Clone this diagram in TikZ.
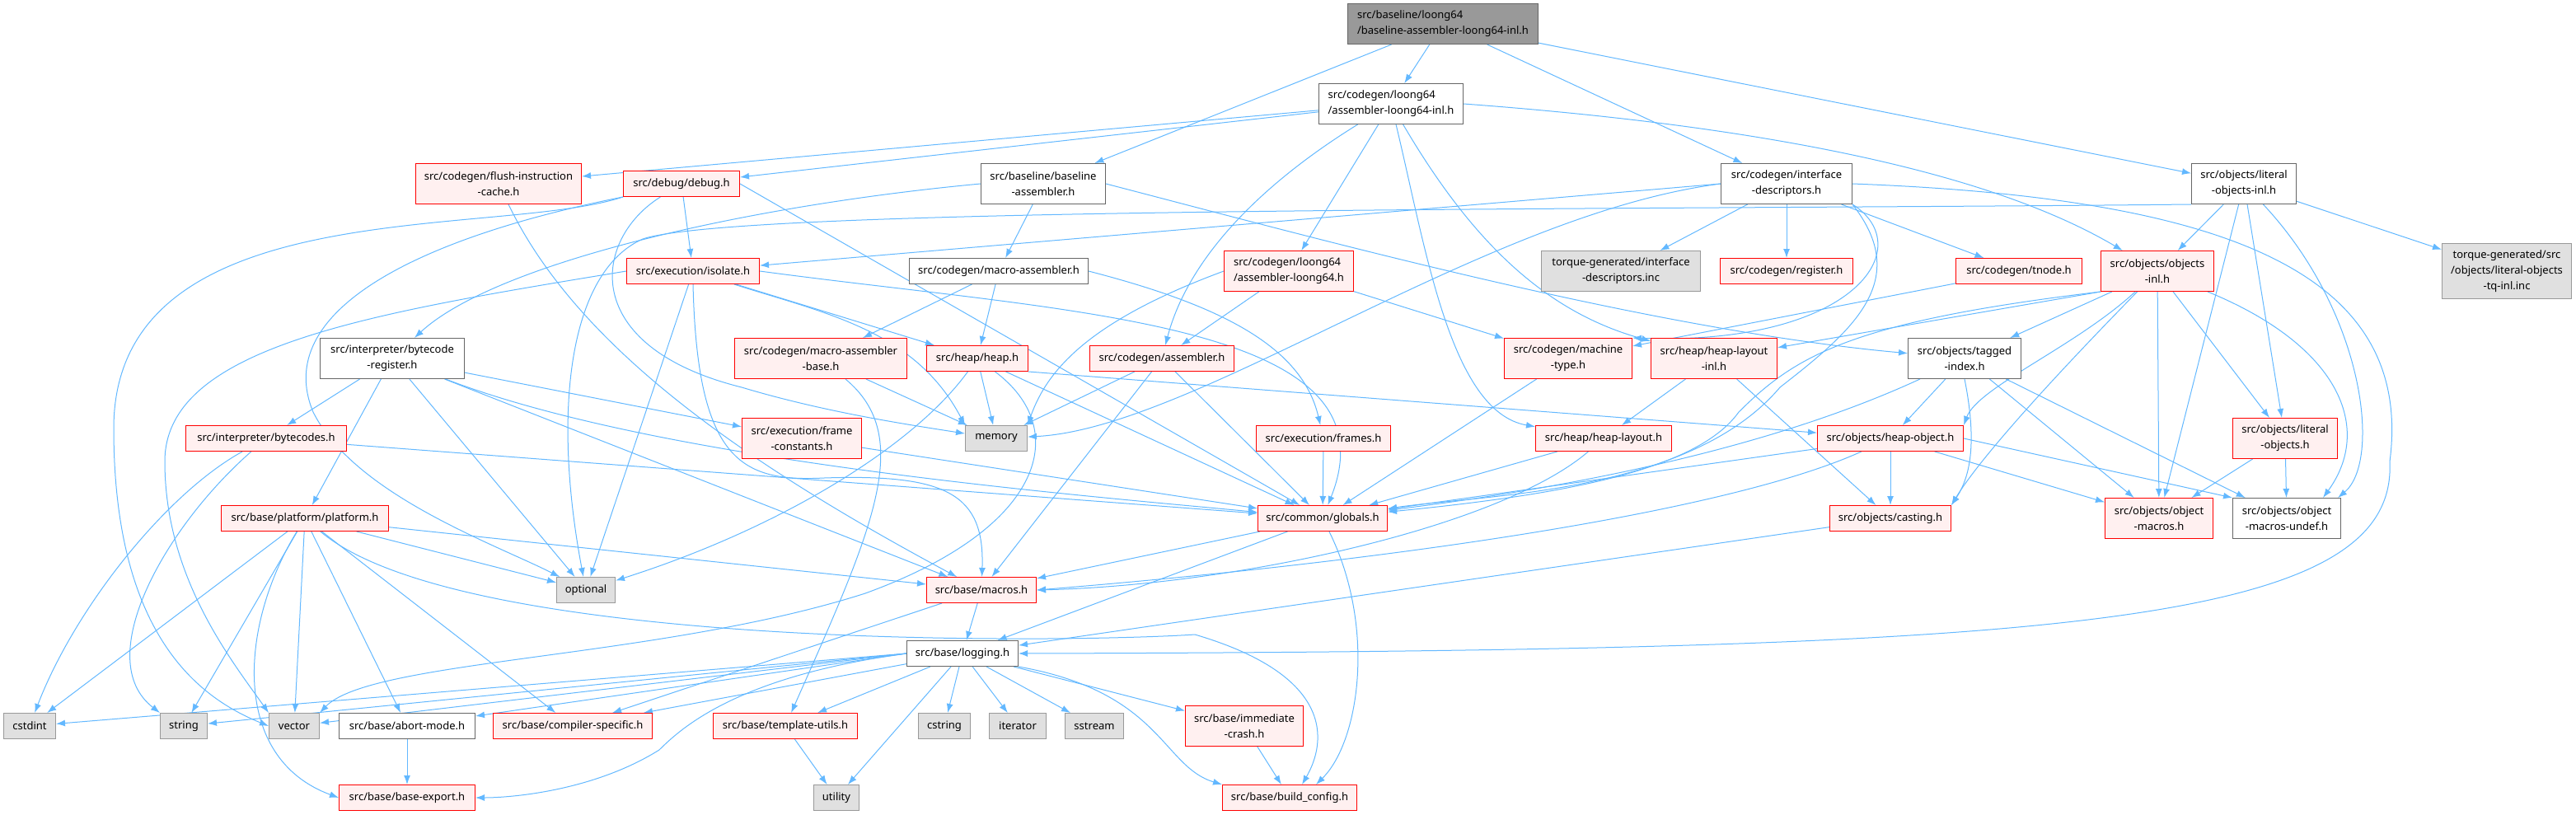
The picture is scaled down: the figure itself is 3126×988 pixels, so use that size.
\documentclass[tikz,border=0pt]{standalone}
\usepackage{fontspec}
\setmainfont{Noto Sans}
\usepackage{tikz}
\usetikzlibrary{arrows.meta, backgrounds}
\definecolor{edgeblue}{HTML}{63B8FF}
\definecolor{redfill}{HTML}{FFF0F0}
\definecolor{sysfill}{HTML}{E0E0E0}
\definecolor{rootfill}{HTML}{999999}

\begin{document}
\begin{tikzpicture}[
  x=1pt, y=-1pt,
  every node/.style={font=\fontsize{13}{19}\selectfont, inner sep=0pt, align=center},
  box/.style={draw, line width=1pt, minimum height=31pt},
  two/.style={minimum height=49pt},
  redbox/.style={box, draw=red, fill=redfill},
  plainbox/.style={box, draw=black!60, fill=white},
  sysbox/.style={box, draw=black!40, fill=sysfill},
  rootbox/.style={box, draw=black!60, fill=rootfill},
  dep/.style={draw=edgeblue, line width=1pt, -{Latex[length=11pt, width=8pt]}},
]
  \useasboundingbox (0,0) rectangle (3126,988);

  % Top of the graph
  \node[rootbox, two, minimum width=231pt, align=left] (root) at (1751,29)
    {src/baseline/loong64\\/baseline-assembler-loong64-inl.h};
  \node[plainbox, two, minimum width=175pt, align=left] (asmInl) at (1688,126)
    {src/codegen/loong64\\/assembler-loong64-inl.h};
  \node[redbox, two, minimum width=201pt] (flush) at (605,223) {src/codegen/flush-instruction\\-cache.h};
  \node[redbox, minimum width=141pt] (debug) at (827,223) {src/debug/debug.h};
  \node[plainbox, two, minimum width=151pt] (blAsm) at (1266,223) {src/baseline/baseline\\-assembler.h};
  \node[plainbox, two, minimum width=159pt] (ifDesc) at (2168,223) {src/codegen/interface\\-descriptors.h};
  \node[plainbox, two, minimum width=127pt] (litObjInl) at (2723,223) {src/objects/literal\\-objects-inl.h};

  \node[redbox, minimum width=161pt] (isolate) at (841,329) {src/execution/isolate.h};
  \node[plainbox, minimum width=217pt] (macroAsm) at (1212,329) {src/codegen/macro-assembler.h};
  \node[redbox, two, minimum width=157pt, align=left] (asmLoong) at (1564,329)
    {src/codegen/loong64\\/assembler-loong64.h};
  \node[sysbox, two, minimum width=193pt] (ifDescInc) at (1967,329) {torque-generated/interface\\-descriptors.inc};
  \node[redbox, minimum width=161pt] (register) at (2168,329) {src/codegen/register.h};
  \node[redbox, minimum width=153pt] (tnode) at (2450,329) {src/codegen/tnode.h};
  \node[redbox, two, minimum width=137pt] (objInl) at (2618,329) {src/objects/objects\\-inl.h};
  \node[sysbox, minimum height=67pt, minimum width=157pt] (tqInc) at (3042,329)
    {torque-generated/src\\/objects/literal-objects\\-tq-inl.inc};

  \node[plainbox, two, minimum width=175pt] (bcReg) at (476,435) {src/interpreter/bytecode\\-register.h};
  \node[redbox, two, minimum width=209pt] (macroBase) at (996,435) {src/codegen/macro-assembler\\-base.h};
  \node[redbox, minimum width=123pt] (heap) at (1186,435) {src/heap/heap.h};
  \node[redbox, minimum width=175pt] (assembler) at (1410,435) {src/codegen/assembler.h};
  \node[redbox, two, minimum width=155pt] (machType) at (1903,435) {src/codegen/machine\\-type.h};
  \node[redbox, two, minimum width=153pt] (heapLayoutInl) at (2080,435) {src/heap/heap-layout\\-inl.h};
  \node[plainbox, two, minimum width=137pt] (tagged) at (2384,435) {src/objects/tagged\\-index.h};

  \node[redbox, minimum width=195pt] (bytecodes) at (323,532) {src/interpreter/bytecodes.h};
  \node[redbox, two, minimum width=145pt] (frameConst) at (973,532) {src/execution/frame\\-constants.h};
  \node[sysbox, minimum width=75pt] (memory) at (1209,532) {memory};
  \node[redbox, minimum width=163pt] (frames) at (1606,532) {src/execution/frames.h};
  \node[redbox, minimum width=165pt] (heapLayout) at (1946,532) {src/heap/heap-layout.h};
  \node[redbox, minimum width=177pt] (heapObj) at (2294,532) {src/objects/heap-object.h};
  \node[redbox, two, minimum width=127pt] (litObj) at (2773,532) {src/objects/literal\\-objects.h};

  \node[redbox, minimum width=203pt] (platform) at (370,629) {src/base/platform/platform.h};
  \node[redbox, minimum width=157pt] (globals) at (1605,629) {src/common/globals.h};
  \node[redbox, minimum width=147pt] (casting) at (2294,629) {src/objects/casting.h};
  \node[redbox, two, minimum width=131pt] (objMacros) at (2620,629) {src/objects/object\\-macros.h};
  \node[plainbox, two, minimum width=131pt] (objUndef) at (2775,629) {src/objects/object\\-macros-undef.h};

  \node[sysbox, minimum width=71pt] (optional) at (711,716) {optional};
  \node[redbox, minimum width=133pt] (macros) at (1191,716) {src/base/macros.h};
  \node[plainbox, minimum width=135pt] (logging) at (1168,793) {src/base/logging.h};

  % Leaves
  \node[sysbox, minimum width=63pt] (cstdint) at (36,881) {cstdint};
  \node[sysbox, minimum width=57pt] (string) at (223,881) {string};
  \node[sysbox, minimum width=61pt] (vector) at (357,881) {vector};
  \node[plainbox, minimum width=165pt] (abort) at (494,881) {src/base/abort-mode.h};
  \node[redbox, minimum width=193pt] (compiler) at (695,881) {src/base/compiler-specific.h};
  \node[redbox, minimum width=175pt] (template) at (953,881) {src/base/template-utils.h};
  \node[sysbox, minimum width=63pt] (cstring) at (1146,881) {cstring};
  \node[sysbox, minimum width=69pt] (iterator) at (1235,881) {iterator};
  \node[sysbox, minimum width=71pt] (sstream) at (1328,881) {sstream};
  \node[redbox, two, minimum width=143pt] (immediate) at (1510,881) {src/base/immediate\\-crash.h};
  \node[redbox, minimum width=165pt] (baseExport) at (494,968) {src/base/base-export.h};
  \node[sysbox, minimum width=55pt] (utility) at (1015,968) {utility};
  \node[redbox, minimum width=163pt] (buildConfig) at (1565,968) {src/base/build\_config.h};

  % Include edges
  \begin{scope}[on background layer]
  \draw[dep] (root) -- (asmInl);
  \draw[dep] (root) -- (blAsm);
  \draw[dep] (root) -- (ifDesc);
  \draw[dep] (root) -- (litObjInl);

  \draw[dep] (asmInl) -- (flush);
  \draw[dep] (asmInl) -- (debug);
  \draw[dep] (asmInl) -- (asmLoong);
  \draw[dep] (asmInl) .. controls (1520,230) and (1440,320) .. (assembler);
  \draw[dep] (asmInl) .. controls (1730,300) and (1760,500) .. (heapLayout);
  \draw[dep] (asmInl) .. controls (1790,300) and (1880,380) .. (heapLayoutInl);
  \draw[dep] (asmInl.east) .. controls (2100,150) and (2400,200) .. (objInl);

  \draw[dep] (flush) .. controls (700,420) and (900,560) .. (macros);
  \draw[dep] (debug) -- (isolate);
  \draw[dep] (debug.east) -- (globals);
  \draw[dep] (debug.south west) .. controls (600,290) and (138,230) .. (138,520)
    .. controls (138,780) and (250,850) .. (vector.west);
  \draw[dep] (debug.south west) .. controls (500,290) and (330,380) .. (380,500)
    .. controls (430,600) and (600,660) .. (optional);
  \draw[dep] (debug) .. controls (720,290) and (700,420) .. (900,470)
    .. controls (1000,500) and (1100,515) .. (memory);

  \draw[dep] (blAsm) -- (macroAsm);
  \draw[dep] (blAsm.west) .. controls (900,250) and (600,320) .. (bcReg);
  \draw[dep] (blAsm.east) .. controls (1600,290) and (2000,400) .. (tagged);

  \draw[dep] (ifDesc) -- (ifDescInc);
  \draw[dep] (ifDesc) -- (register);
  \draw[dep] (ifDesc) -- (tnode);
  \draw[dep] (ifDesc.west) -- (isolate);
  \draw[dep] (ifDesc.west) .. controls (1800,260) and (1450,520) .. (memory);
  \draw[dep] (ifDesc.south east) .. controls (2330,300) and (2250,420) .. (machType.north east);
  \draw[dep] (ifDesc.south east) .. controls (2320,340) and (2250,400) .. (2160,470)
    .. controls (2050,600) and (1800,600) .. (globals);
  \draw[dep] (ifDesc.east) .. controls (2700,240) and (2930,330) .. (2900,560)
    .. controls (2910,760) and (2500,790) .. (logging.east);

  \draw[dep] (litObjInl) -- (objInl);
  \draw[dep] (litObjInl) -- (litObj);
  \draw[dep] (litObjInl) -- (objMacros);
  \draw[dep] (litObjInl) .. controls (2870,380) and (2890,560) .. ([xshift=-4pt]objUndef.north east);
  \draw[dep] (litObjInl) -- (tqInc);
  \draw[dep] (litObjInl.south west) .. controls (2000,255) and (900,250) .. (780,290)
    .. controls (690,330) and (670,500) .. (optional);

  \draw[dep] (isolate) -- (heap);
  \draw[dep] (isolate) .. controls (1000,380) and (1110,400) .. (memory.north west);
  \draw[dep] (isolate) -- (optional);
  \draw[dep] (isolate.west) .. controls (450,380) and (200,420) .. (200,560)
    .. controls (200,700) and (280,800) .. (vector.north west);
  \draw[dep] (isolate.east) .. controls (1300,380) and (1700,390) .. (globals);
  \draw[dep] (isolate.south) .. controls (846,560) and (900,585) .. (1000,580)
    .. controls (1150,575) and (1195,600) .. (macros);

  \draw[dep] (macroAsm) -- (macroBase);
  \draw[dep] (macroAsm) -- (heap);
  \draw[dep] (macroAsm.east) .. controls (1480,370) and (1580,420) .. (frames);

  \draw[dep] (asmLoong) -- (assembler);
  \draw[dep] (asmLoong) -- (machType);
  \draw[dep] (asmLoong.west) .. controls (1320,390) and (1270,450) .. (memory.north east);
  \draw[dep] (tnode) -- (machType);

  \draw[dep] (objInl) -- (tagged);
  \draw[dep] (objInl) .. controls (2520,420) and (2400,470) .. (heapObj.north east);
  \draw[dep] (objInl) .. controls (2480,470) and (2400,560) .. (casting.north east);
  \draw[dep] (objInl) -- (objMacros);
  \draw[dep] (objInl) -- (litObj);
  \draw[dep] (objInl) .. controls (2840,420) and (2880,520) .. ([xshift=-22pt]objUndef.north east);
  \draw[dep] (objInl.south west) -- (heapLayoutInl);
  \draw[dep] (objInl.south west) .. controls (2250,390) and (2180,430) .. (2110,500)
    .. controls (2060,570) and (1900,600) .. (globals);

  \draw[dep] (bcReg) -- (bytecodes);
  \draw[dep] (bcReg) -- (platform);
  \draw[dep] (bcReg) -- (optional);
  \draw[dep] (bcReg) -- (macros);
  \draw[dep] (bcReg) .. controls (800,560) and (1300,600) .. (globals);
  \draw[dep] (bcReg) -- (frameConst);

  \draw[dep] (macroBase) -- (memory);
  \draw[dep] (macroBase) .. controls (1110,530) and (1060,640) .. (template);
  \draw[dep] (heap) -- (memory);
  \draw[dep] (heap) .. controls (1110,540) and (950,640) .. (optional);
  \draw[dep] (heap) .. controls (1300,520) and (1270,640) .. (1050,720)
    .. controls (800,800) and (450,800) .. (vector.north east);
  \draw[dep] (heap) -- (globals);
  \draw[dep] (heap.south east) -- (heapObj);
  \draw[dep] (assembler) -- (memory);
  \draw[dep] (assembler) -- (macros);
  \draw[dep] (assembler) -- (globals);

  \draw[dep] (machType) -- (globals);
  \draw[dep] (heapLayoutInl) -- (heapLayout);
  \draw[dep] (heapLayoutInl) -- (casting);
  \draw[dep] (tagged) .. controls (2200,520) and (2000,580) .. (globals);
  \draw[dep] (tagged) -- (heapObj);
  \draw[dep] (tagged.south) .. controls (2400,540) and (2390,580) .. (casting.north east);
  \draw[dep] (tagged) -- (objMacros);
  \draw[dep] (tagged) -- (objUndef);

  \draw[dep] (bytecodes) .. controls (200,600) and (90,740) .. (cstdint);
  \draw[dep] (bytecodes) .. controls (200,640) and (110,800) .. (string.north west);
  \draw[dep] (bytecodes) -- (globals);
  \draw[dep] (frameConst) -- (globals);
  \draw[dep] (frames) -- (globals);
  \draw[dep] (heapLayout) -- (globals);
  \draw[dep] (heapLayout) .. controls (1820,640) and (1500,710) .. (macros.east);
  \draw[dep] (heapObj) -- (casting);
  \draw[dep] (heapObj) -- (globals);
  \draw[dep] (heapObj) .. controls (2100,620) and (1700,680) .. (macros.east);
  \draw[dep] (heapObj) -- (objMacros);
  \draw[dep] (heapObj.east) -- (objUndef.north west);
  \draw[dep] (litObj) -- (objMacros);
  \draw[dep] (litObj) -- (objUndef);

  \draw[dep] (platform) -- (cstdint);
  \draw[dep] (platform) -- (string);
  \draw[dep] (platform) -- (vector);
  \draw[dep] (platform) .. controls (290,760) and (280,920) .. (baseExport.west);
  \draw[dep] (platform) -- (abort);
  \draw[dep] (platform) -- (compiler);
  \draw[dep] (platform) -- (optional);
  \draw[dep] (platform) -- (macros);
  \draw[dep] (platform) .. controls (560,790) and (1300,780) .. (1450,770)
    .. controls (1620,820) and (1610,900) .. ([xshift=15pt]buildConfig.north);

  \draw[dep] (globals) -- (macros);
  \draw[dep] (globals) -- (logging);
  \draw[dep] (globals) .. controls (1670,760) and (1650,900) .. ([xshift=32pt]buildConfig.north);
  \draw[dep] (casting) -- (logging);
  \draw[dep] (macros) -- (logging);
  \draw[dep] (macros) -- (compiler);

  \draw[dep] (logging.west) -- (cstdint);
  \draw[dep] (logging.west) -- (string);
  \draw[dep] (logging.west) -- (vector);
  \draw[dep] (logging.west) -- (abort);
  \draw[dep] (logging) -- (compiler);
  \draw[dep] (logging.west) .. controls (900,820) and (830,880) .. (800,910)
    .. controls (720,960) and (620,968) .. (baseExport.east);
  \draw[dep] (logging) -- (template);
  \draw[dep] (logging) -- (utility);
  \draw[dep] (logging) -- (cstring);
  \draw[dep] (logging) -- (iterator);
  \draw[dep] (logging) -- (sstream);
  \draw[dep] (logging) -- (immediate);
  \draw[dep] (logging.south east) .. controls (1410,840) and (1410,930) .. (buildConfig.north west);

  \draw[dep] (abort) -- (baseExport);
  \draw[dep] (template) -- (utility);
  \draw[dep] (immediate) -- (buildConfig);
  \end{scope}
\end{tikzpicture}
\end{document}
